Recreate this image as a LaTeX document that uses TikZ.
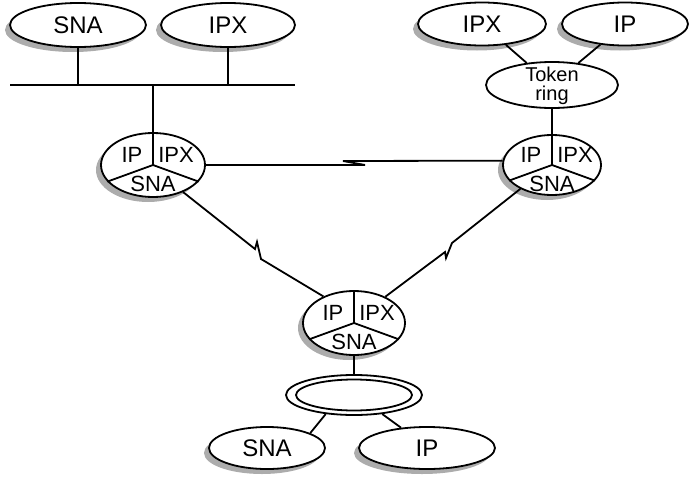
\documentclass[tikz,border=0pt]{standalone}
\usepackage{fontspec}
\setmainfont{Liberation Sans}
\usetikzlibrary{shapes.geometric,shadows}
\begin{document}
\begin{tikzpicture}[x=1pt,y=-1pt,
  lw/.style={line width=1.8pt},
  net/.style={ellipse, draw, line width=1.8pt, fill=white, inner sep=0pt, minimum height=44pt},
  shad/.style={drop shadow={shadow xshift=-5pt, shadow yshift=-5pt, fill=gray!65, opacity=1}},
  big/.style={font=\fontsize{24}{26}\selectfont},
  rlab/.style={font=\fontsize{22}{24}\selectfont, inner sep=0pt},
  link/.style={line width=1.8pt, line join=miter},
]
\useasboundingbox (0,0) rectangle (693,479);

% end-station networks
\node[net, shad, big, minimum width=136pt] (sna1) at (78,25) {SNA};
\node[net, shad, big, minimum width=134pt] (ipx1) at (228,25) {IPX};
\node[net, shad, big, minimum width=128pt, minimum height=43pt] (ipx2) at (482,24) {IPX};
\node[net, shad, big, minimum width=126pt, minimum height=43pt] (ip2) at (625,24) {IP};
\node[net, minimum width=132pt, minimum height=46pt] (tok) at (552,85) {};
\node[align=center, font=\fontsize{20}{19.5}\selectfont, inner sep=0pt] (toktxt) at (552,86) {Token\\ring};

% routers
\node[net, shad, minimum width=104pt, minimum height=64pt] (r1) at (153,165) {};
\node[net, shad, minimum width=98pt, minimum height=60pt] (r2) at (552,165) {};
\node[net, shad, minimum width=102pt, minimum height=64pt] (r3) at (354,323) {};

% bottom ring and networks
\node[ellipse, draw, lw, inner sep=0pt, minimum width=136pt, minimum height=40pt] (ring) at (354,395) {};
\node[ellipse, draw, lw, inner sep=0pt, minimum width=116pt, minimum height=31pt] (ringin) at (354,395) {};
\node[net, shad, big, minimum width=116pt, minimum height=42pt] (sna3) at (267,448) {SNA};
\node[net, shad, big, minimum width=136pt, minimum height=42pt] (ip3) at (427,448) {IP};

% router contents
\foreach \r in {r1,r2,r3} {
  \draw[lw] (\r.center) -- (\r.north)
            (\r.center) -- (\r.200)
            (\r.center) -- (\r.340);
  \node[rlab] (\r ip) at ([shift={(-21,-10)}]\r.center) {IP};
  \node[rlab] (\r ipx) at ([shift={(23,-10)}]\r.center) {IPX};
  \node[rlab] (\r sna) at ([shift={(0,19)}]\r.center) {SNA};
}

% LAN bus
\coordinate (busL) at (10,85);
\coordinate (busR) at (295,85);
\draw[lw] (busL) -- (busR);
\draw[lw] (sna1.south) -- (sna1.south |- busL);
\draw[lw] (ipx1.south) -- (ipx1.south |- busL);
\draw[lw] (r1.center |- busL) -- (r1.center);

% token ring connections
\draw[lw] (ipx2) -- (tok);
\draw[lw] (ip2) -- (tok);
\draw[lw] (tok.south) -- (r2.center);

% bottom connections
\draw[lw] (r3.south) -- (ring.north);
\draw[lw] (ring.214) -- (sna3.19);
\draw[lw] (ring.326) -- (ip3.142);

% serial (lightning) links
\draw[link] (r1.east) -- (365,165) -- (343,161) -- (r2.175);
\draw[link] (r1.318) -- (255,249) -- (257,242) -- (261,259) -- (r3.139);
\draw[link] (r3.40) -- (445,252) -- (446,258) -- (452,243) -- (r2.217);
\end{tikzpicture}
\end{document}
